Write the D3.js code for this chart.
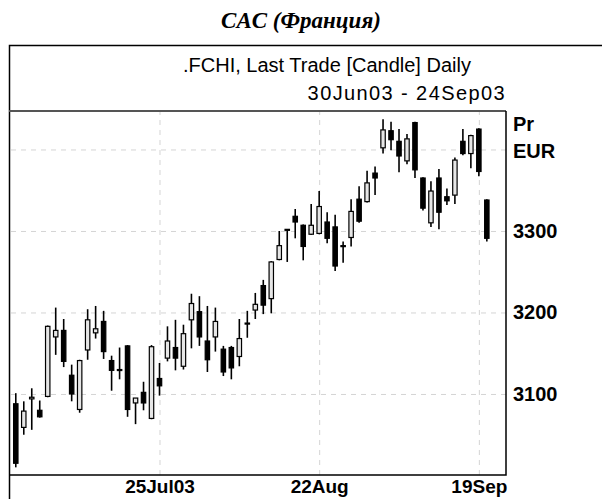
<!DOCTYPE html>
<meta charset="utf-8">
<html>
<head>
<script src="https://d3js.org/d3.v7.min.js"></script>
<style>
  body { margin: 0; background: #fff; }
  .grid line { stroke: #d4d4d4; stroke-dasharray: 5,5; }
  .grid .domain { display: none; }
  .lbl { font-family: "Liberation Sans", Arial, sans-serif; fill: #000; }
</style>
<title>CAC (Франция)</title>
</head>
<body>
<div id="chart"></div>
<script>

// trading days shown (1 Jul 2003 - 22 Sep 2003)
var dates = [
  "2003-07-01","2003-07-02","2003-07-03","2003-07-04","2003-07-07","2003-07-08","2003-07-09","2003-07-10",
  "2003-07-11","2003-07-14","2003-07-15","2003-07-16","2003-07-17","2003-07-18","2003-07-21","2003-07-22",
  "2003-07-23","2003-07-24","2003-07-25","2003-07-28","2003-07-29","2003-07-30","2003-07-31","2003-08-01",
  "2003-08-04","2003-08-05","2003-08-06","2003-08-07","2003-08-08","2003-08-11","2003-08-12","2003-08-13",
  "2003-08-14","2003-08-15","2003-08-18","2003-08-19","2003-08-20","2003-08-21","2003-08-22","2003-08-25",
  "2003-08-26","2003-08-27","2003-08-28","2003-08-29","2003-09-01","2003-09-02","2003-09-03","2003-09-04",
  "2003-09-05","2003-09-08","2003-09-09","2003-09-10","2003-09-11","2003-09-12","2003-09-15","2003-09-16",
  "2003-09-17","2003-09-18","2003-09-19","2003-09-22"
];
var openP  = [3088,3059,3094,3080,3097,3170,3178,3123,3081,3154,3175,3189,3141,3130,3159,3089,
              3102,3070,3119,3144,3157,3134,3191,3201,3165,3170,3155,3157,3146,3187,3203,3233,
              3217,3265,3301,3318,3307,3296,3297,3311,3305,3282,3292,3339,3336,3371,3402,3423,
              3410,3386,3433,3365,3310,3365,3342,3344,3410,3395,3425,3338];
var highP  = [3101,3091,3107,3092,3184,3206,3192,3136,3142,3204,3208,3202,3147,3157,3160,3095,
              3115,3160,3138,3183,3191,3185,3223,3220,3208,3206,3159,3159,3192,3202,3224,3240,
              3263,3300,3302,3327,3308,3333,3349,3323,3320,3287,3339,3355,3374,3379,3437,3434,
              3425,3419,3434,3366,3361,3376,3352,3390,3425,3418,3426,3339];
var lowP   = [3010,3050,3056,3071,3096,3148,3133,3091,3077,3142,3168,3143,3104,3118,3072,3063,
              3080,3069,3098,3140,3129,3130,3156,3159,3127,3152,3122,3118,3134,3169,3192,3198,
              3199,3264,3262,3291,3264,3295,3296,3285,3251,3261,3281,3310,3335,3344,3395,3399,
              3372,3382,3365,3325,3305,3302,3332,3333,3393,3377,3367,3287];
var closeP = [3015,3079,3096,3072,3183,3178,3140,3100,3141,3191,3180,3152,3129,3129,3081,3095,
              3089,3158,3110,3165,3144,3174,3211,3170,3142,3189,3127,3132,3168,3186,3210,3209,
              3262,3282,3302,3311,3281,3307,3330,3291,3257,3281,3324,3312,3359,3365,3424,3412,
              3392,3413,3375,3328,3349,3323,3337,3387,3395,3417,3373,3291];

var tickDates  = ["2003-07-25", "2003-08-22", "2003-09-19"];
var tickLabels = ["25Jul03", "22Aug", "19Sep"];
var priceTicks = [3100, 3200, 3300];
var gridPrices = [3100, 3200, 3300, 3400];

var W = 602, H = 499;
var plot = { left: 9, right: 506, top: 111, bottom: 475 };

var svg = d3.select("#chart").append("svg")
    .attr("width", W)
    .attr("height", H);

// scales
var x = d3.scaleLinear()
    .domain([-0.85, 61.4])
    .range([plot.left, plot.right]);
var y = d3.scaleLinear()
    .domain([3000.6, 3447.2])
    .range([plot.bottom, plot.top]);

var tickIdx = tickDates.map(function (d) { return dates.indexOf(d); });

// grid
svg.append("g")
    .attr("class", "grid")
    .attr("transform", "translate(0," + plot.bottom + ")")
    .call(d3.axisBottom(x)
        .tickValues(tickIdx)
        .tickSize(-(plot.bottom - plot.top))
        .tickFormat(""));
svg.append("g")
    .attr("class", "grid")
    .attr("transform", "translate(" + plot.right + ",0)")
    .call(d3.axisLeft(y)
        .tickValues(gridPrices)
        .tickSize(plot.right - plot.left)
        .tickFormat(""));

// candles
var data = dates.map(function (d, i) {
    return { date: d, i: i, o: openP[i], h: highP[i], l: lowP[i], c: closeP[i] };
});
var candle = svg.append("g").selectAll("g")
    .data(data)
    .enter().append("g");

candle.append("line")
    .attr("x1", function (d) { return x(d.i); })
    .attr("x2", function (d) { return x(d.i); })
    .attr("y1", function (d) { return y(d.h); })
    .attr("y2", function (d) { return y(d.l); })
    .attr("stroke", "#000")
    .attr("stroke-width", 1.6);

candle.append("rect")
    .attr("x", function (d) { return x(d.i) - 2.2; })
    .attr("width", 4.4)
    .attr("y", function (d) { return y(Math.max(d.o, d.c)); })
    .attr("height", function (d) { return Math.max(1, Math.abs(y(d.o) - y(d.c))); })
    .attr("fill", function (d) { return d.c >= d.o ? "#e6e6e6" : "#000"; })
    .attr("stroke", "#000")
    .attr("stroke-width", 1.2);

// frame
var frame = svg.append("g").attr("fill", "none");
frame.append("path")
    .attr("d", "M9.5,499V45.5H602")
    .attr("stroke", "#000").attr("stroke-width", 1.5);
frame.append("path")
    .attr("d", "M9," + plot.top + "H" + plot.right)
    .attr("stroke", "#555").attr("stroke-width", 2);
frame.append("path")
    .attr("d", "M" + plot.right + "," + plot.top + "V" + plot.bottom + "H9")
    .attr("stroke", "#000").attr("stroke-width", 1.5);

// x labels
var xAxis = svg.append("g")
    .attr("transform", "translate(0," + plot.bottom + ")")
    .call(d3.axisBottom(x)
        .tickValues(tickIdx)
        .tickSize(0)
        .tickPadding(5)
        .tickFormat(function (d, i) { return tickLabels[i]; }));
xAxis.select(".domain").remove();
xAxis.selectAll("text")
    .attr("class", "lbl")
    .style("font-size", "19px")
    .style("font-weight", "bold");

// y labels
var yAxis = svg.append("g")
    .attr("transform", "translate(" + plot.right + ",0)")
    .call(d3.axisRight(y)
        .tickValues(priceTicks)
        .tickSize(0)
        .tickPadding(7)
        .tickFormat(d3.format("d")));
yAxis.select(".domain").remove();
yAxis.selectAll("text")
    .attr("class", "lbl")
    .style("font-size", "20px")
    .style("font-weight", "bold");

svg.append("text").attr("class", "lbl")
    .attr("x", 513).attr("y", 131)
    .style("font-size", "20px").style("font-weight", "bold")
    .text("Pr");
svg.append("text").attr("class", "lbl")
    .attr("x", 513).attr("y", 158)
    .style("font-size", "20px").style("font-weight", "bold")
    .text("EUR");

// header texts
svg.append("text").attr("class", "lbl")
    .attr("x", 183).attr("y", 72)
    .style("font-size", "20px")
    .text(".FCHI, Last Trade [Candle] Daily");
svg.append("text").attr("class", "lbl")
    .attr("x", 506).attr("y", 100)
    .attr("text-anchor", "end")
    .style("font-size", "20px")
    .style("letter-spacing", "1.4px")
    .text("30Jun03 - 24Sep03");

svg.append("text")
    .attr("x", 301).attr("y", 28)
    .attr("text-anchor", "middle")
    .style("font-family", "'Liberation Serif', serif")
    .style("font-size", "23px")
    .style("font-weight", "bold")
    .style("font-style", "italic")
    .text("CAC (Франция)");

</script>
</body>
</html>
